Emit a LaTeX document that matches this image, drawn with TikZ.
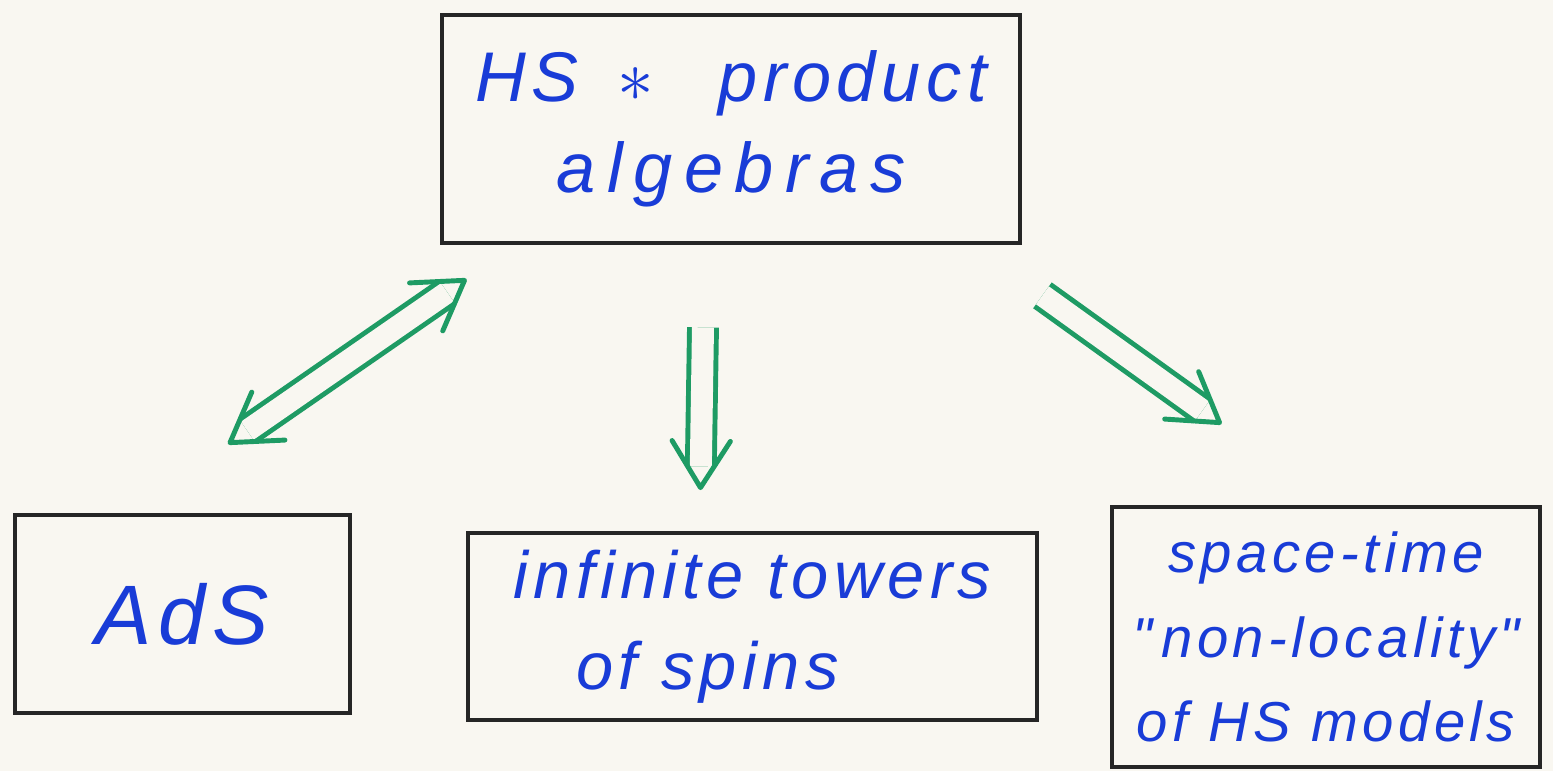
\documentclass[tikz,border=0pt]{standalone}
\usepackage{fontspec}
\setmainfont{Liberation Sans}
\newfontfamily\hand[LetterSpace=8]{Liberation Sans}
\newfontfamily\handwide[LetterSpace=16]{Liberation Sans}
\usetikzlibrary{calc}
\definecolor{paper}{RGB}{249,247,241}
\definecolor{ink}{RGB}{25,60,215}
\definecolor{pen}{RGB}{30,155,100}
\tikzset{
  box/.style={draw=black!85, line width=1.3pt, inner sep=0pt, align=center, text=ink},
  dbl/.style={draw=pen, line width=1.4pt, double=paper, double distance=2.2mm, line cap=butt},
  vhead/.style={draw=pen, line width=1.4pt, line cap=round, line join=round},
}
\begin{document}
\begin{tikzpicture}[x=0.01cm,y=-0.01cm]
\fill[paper] (0,0) rectangle (1553,771);
\useasboundingbox (0,0) rectangle (1553,771);

\node[box, minimum width=5.78cm, minimum height=2.28cm,
      font=\hand\itshape\fontsize{20}{26}\selectfont] (top) at (731,129)
      {HS\;\;$*$\;\; product\\{\handwide\itshape algebras}};
\node[box, minimum width=3.35cm, minimum height=1.98cm,
      font=\hand\itshape\fontsize{24}{28}\selectfont] (ads) at (182.5,614) {AdS};
\node[box, minimum width=5.69cm, minimum height=1.87cm,
      font=\hand\itshape\fontsize{19}{26}\selectfont] (mid) at (752.5,626.5)
      {infinite towers\\of spins\hspace{0.9cm}\mbox{}};
\node[box, minimum width=4.28cm, minimum height=2.6cm,
      font=\hand\itshape\fontsize{16}{24}\selectfont] (rt) at (1326,637)
      {space-time\\"\,non-locality"\\of HS models};

% arrow end points, tied to the nodes
\coordinate (a1) at ($(ads.north)+(47.5,-70)$);
\coordinate (a2) at ($(top.south west)+(25,35)$);
\coordinate (b1) at ($(top.south)+(-28,82)$);
\coordinate (b2) at ($(mid.north)+(-52,-43)$);
\coordinate (c1) at ($(top.south east)+(20,50)$);
\coordinate (c2) at ($(rt.north west)+(110,-82)$);

% AdS <=> HS algebras
\draw[dbl, shorten <=2.1mm, shorten >=2.1mm] (a1) -- (a2);
\draw[vhead] ($(a2)!5.5mm!32:(a1)$) -- (a2) -- ($(a2)!5.5mm!-32:(a1)$);
\draw[vhead] ($(a1)!5.5mm!32:(a2)$) -- (a1) -- ($(a1)!5.5mm!-32:(a2)$);
% HS algebras => towers
\draw[dbl, shorten >=2.1mm] (b1) -- (b2);
\draw[vhead] ($(b2)!5.5mm!32:(b1)$) -- (b2) -- ($(b2)!5.5mm!-32:(b1)$);
% HS algebras => non-locality
\draw[dbl, shorten >=2.1mm] (c1) -- (c2);
\draw[vhead] ($(c2)!5.5mm!32:(c1)$) -- (c2) -- ($(c2)!5.5mm!-32:(c1)$);
\end{tikzpicture}
\end{document}
